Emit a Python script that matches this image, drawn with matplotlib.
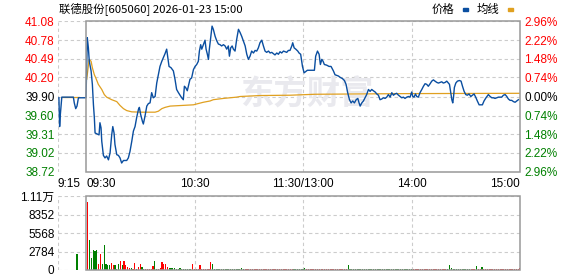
import matplotlib.pyplot as plt
from matplotlib.patches import Rectangle

plt.rcParams['font.family'] = ['Liberation Sans', 'Noto Sans CJK SC', 'DejaVu Sans']

# 坐标轴刻度
price_ticks = [38.72, 39.02, 39.31, 39.60, 39.90, 40.20, 40.49, 40.78, 41.08]
pct_labels = ['2.96%', '2.22%', '1.48%', '0.74%', '0.00%', '0.74%', '1.48%', '2.22%', '2.96%']
vol_ticks = [0, 2784, 5568, 8352, 11136]
vol_labels = ['0', '2784', '5568', '8352', '1.11万']
time_ticks = [-15.5, 0, 60, 120, 180, 240]
time_labels = ['9:15', '09:30', '10:30', '11:30/13:00', '14:00', '15:00']

# 价格 (分钟, 价格)，负数为集合竞价
price_min = [-15.0, -14.6, -14.2, -13.4, -7.0, -6.5, -5.7, -5.0, -4.2, 0.0,
             0.7, 1.3, 1.8, 2.8, 3.5, 4.1, 4.6, 5.0, 7.2, 7.7, 8.3, 8.7, 9.6, 10.5, 11.4, 12.4,
             13.3, 14.2, 14.8, 15.5, 16.0, 17.0, 17.9, 18.8, 19.7, 20.7, 22.5, 23.4, 24.3, 25.3,
             26.2, 27.1, 28.0, 29.0, 29.5, 30.2, 31.2, 31.7, 32.6, 33.6, 34.5, 35.4, 36.3, 37.2,
             38.2, 39.1, 40.0, 40.9, 41.9, 42.8, 43.7, 44.6, 45.2, 45.9, 47.0, 48.3, 49.2,
             50.1, 51.1, 52.0, 52.9, 53.8, 54.4, 55.1, 56.0, 56.6, 57.5, 58.4, 59.4, 60.3, 61.2,
             62.1, 62.7, 63.4, 64.0, 64.9, 65.8, 66.4, 67.1, 67.7, 68.2, 69.0, 69.7, 70.4, 71.4,
             72.3, 73.2, 74.1, 75.0, 76.0, 76.9, 77.8, 78.7, 79.3, 80.0, 80.8, 81.5, 82.4, 83.3,
             84.3, 85.2, 86.1, 87.0, 88.0, 88.9, 89.8, 90.7, 91.6, 92.6, 93.5, 94.4, 95.3, 96.2,
             97.2, 98.1, 99.0, 99.9, 100.9, 101.8, 102.7, 103.6, 104.5, 105.5, 106.4, 107.3,
             108.2, 109.2, 110.1, 111.0, 111.9, 112.8,
             113.8, 114.3, 115.1, 116.0, 117.1, 117.8, 118.7, 119.7, 120.6, 121.5, 122.4, 123.3,
             124.8, 126.3, 127.0, 128.0, 128.9, 129.6, 130.4, 131.1, 131.8, 133.1, 134.4, 135.5,
             136.8, 137.7, 138.7, 139.6, 140.5, 141.8, 142.9, 143.8, 144.7, 145.7, 146.6, 147.5,
             148.4, 149.4, 150.3, 151.0, 151.6, 152.5, 153.4, 154.3, 155.2, 156.2, 157.1, 158.0,
             158.9, 159.9, 160.8, 161.7, 162.6, 163.5, 164.5, 165.4, 166.3, 167.2, 168.2, 169.1,
             170.0, 170.9, 171.8, 172.8, 173.7,
             174.6, 175.5, 176.4, 177.4, 178.3, 179.2, 180.1, 180.7, 181.4, 182.2, 182.9, 183.8,
             184.7, 185.7, 186.6, 187.5, 188.4, 189.3, 190.3, 191.2, 192.1, 193.0, 194.0, 194.9,
             195.8, 196.7, 197.6, 198.6, 199.5, 200.4, 201.0, 201.7, 202.3, 202.8, 203.2, 203.7,
             204.5, 205.4, 206.5, 207.4, 208.2, 209.1, 210.0, 210.9, 211.8, 212.8, 213.7, 214.6,
             215.5, 216.4, 217.4, 218.3, 219.2, 220.1, 221.2, 222.5, 223.5, 224.4, 225.3, 226.2,
             227.1, 228.1, 229.0, 229.9, 230.8, 231.8, 232.7, 233.6, 234.5, 235.4, 236.4, 237.3,
             238.2, 239.1]
price_val = [39.88, 39.43, 39.62, 39.89, 39.89, 39.80, 39.71, 39.75, 39.88, 39.88,
             40.82, 40.66, 40.45, 40.30, 40.09, 39.77, 39.57, 39.33, 39.30, 39.49, 39.41, 39.20,
             38.98, 38.94, 38.97, 38.91, 39.02, 39.30, 39.43, 39.33, 39.15, 38.99, 38.98, 38.94,
             38.86, 38.90, 38.90, 38.94, 39.04, 39.20, 39.36, 39.43, 39.57, 39.70, 39.73, 39.62,
             39.51, 39.47, 39.59, 39.75, 39.79, 39.80, 39.96, 39.88, 39.90, 40.11, 40.24, 40.37,
             40.45, 40.51, 40.57, 40.64, 40.51, 40.37, 40.35, 40.30, 40.17,
             40.01, 39.96, 39.92, 39.88, 39.85, 40.06, 40.04, 39.99, 40.06, 40.17, 40.19, 40.32,
             40.37, 40.40, 40.45, 40.61, 40.71, 40.64, 40.71, 40.78, 40.64, 40.56, 40.48, 40.64,
             40.84, 41.00, 40.95, 40.84, 40.77, 40.72, 40.71, 40.69, 40.71, 40.69, 40.64, 40.69,
             40.53, 40.66, 40.69, 40.64, 40.61, 40.79, 40.95, 40.90, 40.84, 40.77, 40.69, 40.56,
             40.48, 40.53, 40.61, 40.58, 40.62, 40.61, 40.66, 40.74, 40.78, 40.69, 40.61, 40.59,
             40.61, 40.58, 40.59, 40.57, 40.55, 40.58, 40.56, 40.60, 40.58, 40.61, 40.60, 40.59,
             40.62, 40.62,
             40.69, 40.74, 40.66, 40.64, 40.61, 40.58, 40.56, 40.37, 40.27, 40.29, 40.31, 40.31,
             40.31, 40.31, 40.53, 40.61, 40.56, 40.40, 40.48, 40.45, 40.40, 40.39, 40.37, 40.37,
             40.30, 40.24, 40.23, 40.22, 40.20, 40.18, 40.15, 40.09, 39.96, 39.85, 39.80, 39.83,
             39.80, 39.85, 39.87, 39.80, 39.75, 39.80, 39.83, 39.88, 39.93, 40.01, 39.98, 40.01,
             39.99, 39.97, 39.94, 39.92, 39.85, 39.86, 39.88, 39.87, 39.89, 39.93, 39.89, 39.96,
             39.92, 39.94, 39.95, 39.92, 39.90,
             39.88, 39.89, 39.87, 39.89, 39.90, 39.89, 39.97, 39.90, 39.89, 39.94, 39.90, 39.89,
             39.96, 40.01, 40.06, 40.10, 40.09, 40.06, 40.10, 40.14, 40.16, 40.14, 40.12, 40.11,
             40.12, 40.13, 40.11, 40.12, 40.14, 40.11, 40.09, 39.96, 39.85, 39.80, 39.88, 40.04,
             40.11, 40.14, 40.15, 40.14, 40.06, 39.98, 39.93, 39.92, 39.94, 39.90, 39.92, 39.94,
             39.89, 39.83, 39.77, 39.77, 39.77, 39.83, 39.88, 39.93, 39.90, 39.88, 39.88, 39.87,
             39.88, 39.89, 39.89, 39.89, 39.92, 39.93, 39.90, 39.86, 39.84, 39.84, 39.82, 39.81,
             39.83, 39.85]

# 均线
pre_avg_min = [-13.4, -4.0]
pre_avg_val = [39.89, 39.89]
avg_min = [0.4, 1.7, 2.8, 3.5, 4.6, 5.4, 6.8, 8.7, 10.1, 11.4, 14.2, 17.0, 18.8, 20.7, 22.5,
           25.3, 30.8, 38.2, 40.0, 41.9, 43.7, 46.5, 59.4, 62.1, 64.9, 68.6, 70.4, 76.0, 83.3,
           85.2, 96.2, 112.8, 126.6, 176.5, 240.0]
avg_val = [40.17, 40.48, 40.45, 40.35, 40.24, 40.19, 40.09, 40.01, 39.93, 39.89, 39.85, 39.82,
           39.76, 39.71, 39.68, 39.66, 39.655, 39.655, 39.67, 39.71, 39.73, 39.75, 39.77, 39.79,
           39.81, 39.83, 39.85, 39.87, 39.89, 39.90, 39.915, 39.92, 39.935, 39.945, 39.95]

# 成交量
auction_min, auction_vol = -5, 2408
vol_open = [10233, 4514, 1756, 3010, 2859, 3010, 903, 2408, 903, 3762, 903, 702, 702, 1003,
            752, 752, 150, 903, 1354, 752, 1354, 752, 502, 251, 251, 150, 1104, 150, 502, 903,
            401, 150, 150, 150, 150, 150, 602, 1354, 150, 150, 301, 1204, 903, 903, 502, 251,
            251, 301, 251, 100, 100, 251, 100, 100, 200]
vol_open_color = 'rgggggrrgggggrrgggrgrrrrgrrgrrggrrrrrggrrrrrrgggggggggg'
small_runs = [(56, 58, 'g'), (59, 70, 'r'), (71, 87, 'g'), (88, 114, 'r'), (115, 120, 'g'),
              (121, 144, 'r'), (145, 180, 'g'), (181, 199, 'r'), (200, 212, 'g'), (213, 240, 'r')]
small_vol = 130
spike_min = [59, 63, 69, 70, 86, 121, 145, 201, 202, 216, 219, 240]
spike_vol = [903, 752, 1204, 903, 301, 301, 752, 752, 301, 602, 451, 301]
spike_color = 'rrrggggggggr'

RED, GREEN = '#ff0000', '#008000'
cmap = {'r': RED, 'g': GREEN}

vm, vv, vc = [auction_min], [auction_vol], [GREEN]
for i, v in enumerate(vol_open):
    vm.append(i + 1); vv.append(v); vc.append(cmap[vol_open_color[i]])
spikes = {m: (v, c) for m, v, c in zip(spike_min, spike_vol, spike_color)}
for a, b, c in small_runs:
    for m in range(a, b + 1):
        v, cc = spikes.get(m, (small_vol, c))
        vm.append(m); vv.append(v); vc.append(cmap[cc])

fig = plt.figure(figsize=(5.78, 2.76), dpi=100)
W, H = 578, 276
ax = fig.add_axes([58 / W, 1 - 172 / H, 462 / W, 151 / H])
axv = fig.add_axes([58 / W, 1 - 270 / H, 462 / W, 74 / H])

grid_kw = dict(color='#cccccc', lw=0.8, ls=(0, (3, 2.5)), zorder=0)
for a, ticks, lo, hi in [(ax, price_ticks, 38.72, 41.08), (axv, vol_ticks, 0, 11136)]:
    a.set_xlim(-15.5, 240)
    a.set_ylim(lo, hi)
    for s in a.spines.values():
        s.set_visible(False)
    for t in ticks:
        a.axhline(t, **grid_kw)
    for t in [-15.4, 60, 120, 180]:
        a.axvline(t, **grid_kw)
    a.add_patch(Rectangle((0, lo), 240, hi - lo, fill=False, ec='#999999', lw=1.1,
                          clip_on=False, zorder=5))
    a.set_yticks(ticks)
    a.tick_params(length=0, labelsize=8.5, pad=2.5)

# 水印
ax.text(122, 39.92, '东方财富', fontsize=24, color='#e9e9ee', ha='center', va='center',
        fontweight='bold', family=['Noto Sans CJK SC'], zorder=0)

ax.plot(pre_avg_min, pre_avg_val, color='#e0a020', lw=0.9, zorder=2)
ax.plot(avg_min, avg_val, color='#e0a020', lw=0.9, zorder=2)
ax.plot(price_min, price_val, color='#0a4ea0', lw=1.0, zorder=3)

ax.set_yticklabels([f'{t:.2f}' for t in price_ticks])
for i, lab in enumerate(ax.get_yticklabels()):
    lab.set_color(GREEN if i < 4 else ('#000000' if i == 4 else RED))

axr = ax.twinx()
axr.set_ylim(38.72, 41.08)
axr.set_yticks(price_ticks)
axr.set_yticklabels(pct_labels)
for s in axr.spines.values():
    s.set_visible(False)
axr.tick_params(length=0, labelsize=8.5, pad=3)
for i, lab in enumerate(axr.get_yticklabels()):
    lab.set_color(GREEN if i < 4 else ('#000000' if i == 4 else RED))

ax.set_xticks(time_ticks)
ax.set_xticklabels(time_labels)
ax.tick_params(axis='x', pad=4)
for lab, ha in zip(ax.get_xticklabels(), ['left', 'left', 'center', 'center', 'center', 'right']):
    lab.set_ha(ha)

axv.bar(vm, vv, width=0.65, color=vc, linewidth=0, zorder=3)
axv.set_xticks([])
axv.set_yticklabels(vol_labels)

fig.text(59 / W, 1 - 9 / H, '联德股份[605060] 2026-01-23 15:00', fontsize=8.2,
         family=['Noto Sans CJK SC'], va='center', ha='left')
fig.text(432 / W, 1 - 9 / H, '价格', fontsize=8.2, family=['Noto Sans CJK SC'],
         va='center', ha='left')
fig.text(477 / W, 1 - 9 / H, '均线', fontsize=8.2, family=['Noto Sans CJK SC'],
         va='center', ha='left')
fig.patches.append(Rectangle((463 / W, 1 - 11 / H), 5 / W, 2.5 / H, color='#0a4ea0',
                             transform=fig.transFigure, figure=fig))
fig.patches.append(Rectangle((508 / W, 1 - 11 / H), 5 / W, 2.5 / H, color='#e0a020',
                             transform=fig.transFigure, figure=fig))

fig.savefig('out.png', dpi=100)
